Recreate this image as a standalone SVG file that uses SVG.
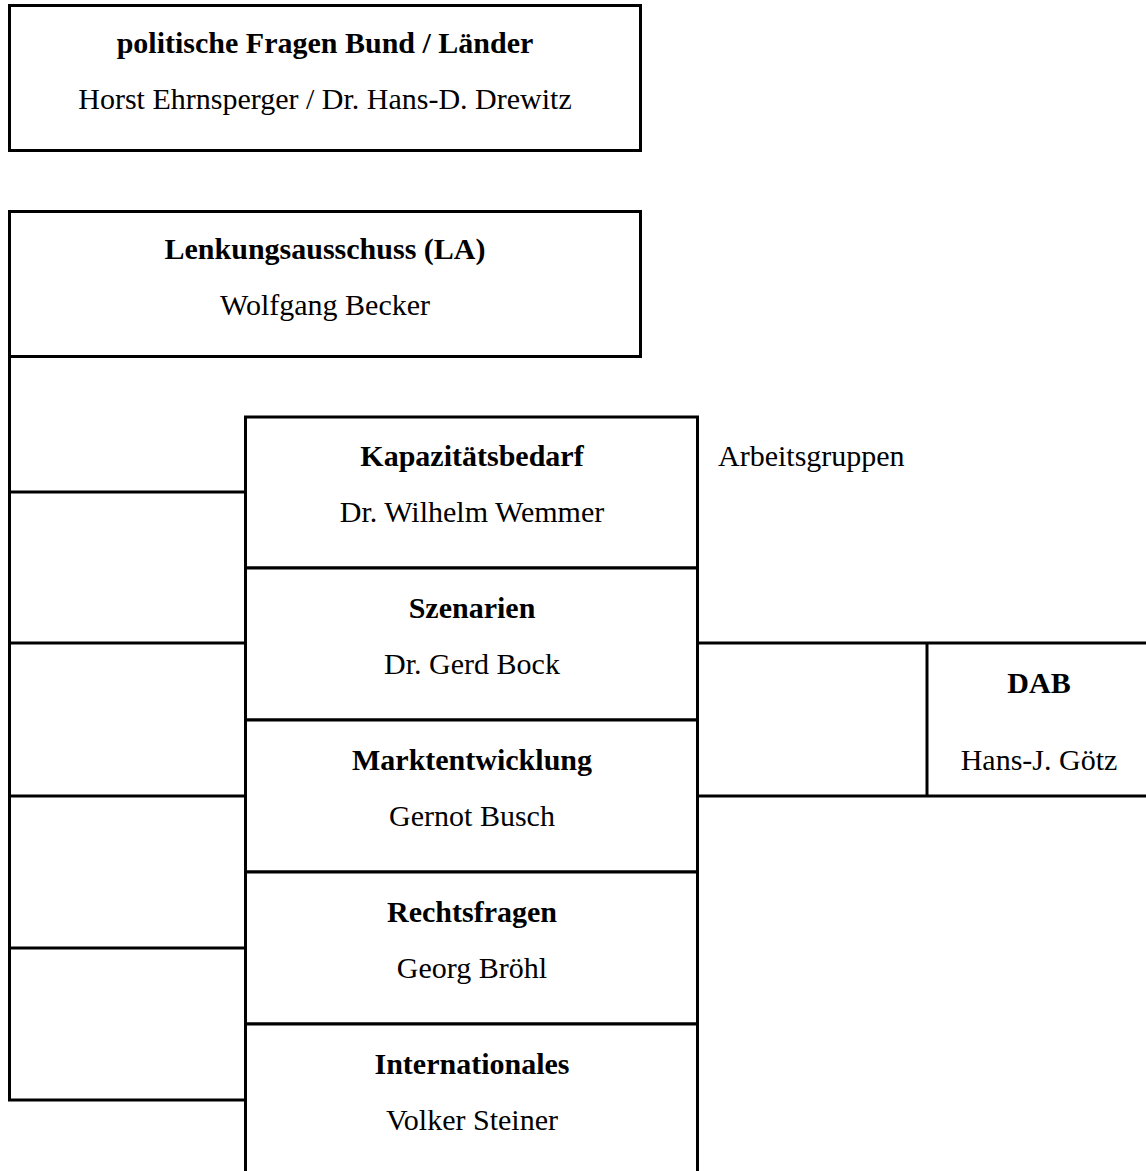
<svg xmlns="http://www.w3.org/2000/svg" width="1146" height="1171" viewBox="0 0 1146 1171">
<style>
.b{fill:#fff;stroke:#000;stroke-width:3}
.l{fill:none;stroke:#000;stroke-width:3}
text{font-family:"Liberation Serif","Times New Roman",serif;font-size:30px;fill:#000;text-anchor:middle}
.t{font-weight:bold}
</style>
<rect width="1146" height="1171" fill="#fff"/>
<g id="connectors">
<path class="l" d="M9.5 357V1100H245M9.5 492H245M9.5 643H245M9.5 796H245M9.5 948H245"/>
<path class="l" d="M698 643H1146M698 796H1146M927 643V796"/>
</g>
<g id="politische"><rect class="b" x="9.5" y="5.5" width="631" height="145"/>
<text class="t" x="325" y="53">politische Fragen Bund / Länder</text>
<text x="325" y="109">Horst Ehrnsperger / Dr. Hans-D. Drewitz</text></g>
<g id="lenkung"><rect class="b" x="9.5" y="211.5" width="631" height="145"/>
<text class="t" x="325" y="259">Lenkungsausschuss (LA)</text>
<text x="325" y="315">Wolfgang Becker</text></g>
<g id="kap"><rect class="b" x="245.5" y="417" width="452" height="151"/>
<text class="t" x="472" y="466">Kapazitätsbedarf</text>
<text x="472" y="522">Dr. Wilhelm Wemmer</text></g>
<g id="sze"><rect class="b" x="245.5" y="568" width="452" height="152"/>
<text class="t" x="472" y="618">Szenarien</text>
<text x="472" y="674">Dr. Gerd Bock</text></g>
<g id="markt"><rect class="b" x="245.5" y="720" width="452" height="152"/>
<text class="t" x="472" y="770">Marktentwicklung</text>
<text x="472" y="826">Gernot Busch</text></g>
<g id="recht"><rect class="b" x="245.5" y="872" width="452" height="152"/>
<text class="t" x="472" y="922">Rechtsfragen</text>
<text x="472" y="978">Georg Bröhl</text></g>
<g id="intl"><path class="b" d="M245.5 1180V1024H697.5V1180"/>
<text class="t" x="472" y="1074">Internationales</text>
<text x="472" y="1130">Volker Steiner</text></g>
<g id="ag"><text x="718" y="466" style="text-anchor:start">Arbeitsgruppen</text></g>
<g id="dab"><text class="t" x="1039" y="693">DAB</text>
<text x="1039" y="770">Hans-J. Götz</text></g>
</svg>
